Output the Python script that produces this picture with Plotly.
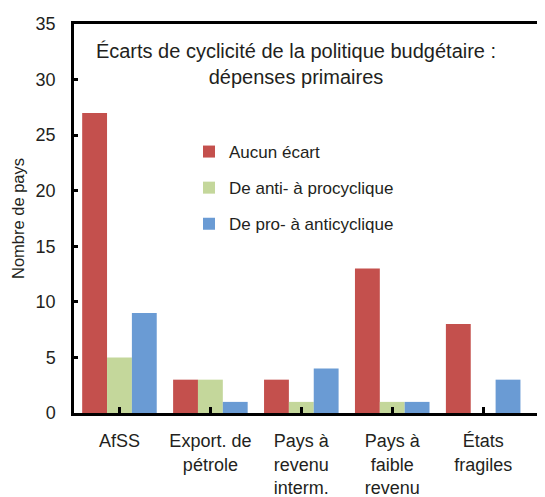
import plotly.graph_objects as go

categories = ["AfSS", "Export. de<br>pétrole", "Pays à<br>revenu<br>interm.",
              "Pays à<br>faible<br>revenu", "États<br>fragiles"]
aucun_ecart = [27, 3, 3, 13, 8]
anti_a_pro = [5, 3, 1, 1, 0]
pro_a_anti = [9, 1, 4, 1, 3]
y_ticks = [0, 5, 10, 15, 20, 25, 30, 35]

FONT = "Liberation Sans, Arial, sans-serif"
TXT = "#231F20"

W, H = 537, 489  # page body has an 8px margin
fig = go.Figure()
series = [
    ("Aucun écart", aucun_ecart, "#C4504D"),
    ("De anti- à procyclique", anti_a_pro, "#C4D79B"),
    ("De pro- à anticyclique", pro_a_anti, "#6A9BD4"),
]
for i, (name, vals, col) in enumerate(series):
    fig.add_trace(go.Bar(x=list(range(len(categories))), y=vals, name=name,
                         marker=dict(color=col, line=dict(width=0)),
                         legendgroup=f"g{i}"))

fig.update_layout(
    width=W, height=H,
    margin=dict(l=66, r=0, t=16, b=84),
    paper_bgcolor="white", plot_bgcolor="white",
    barmode="group", bargap=0.18, bargroupgap=0,
    font=dict(family=FONT, size=18, color=TXT),
    title=dict(text="Écarts de cyclicité de la politique budgétaire :<br>dépenses primaires",
               x=288/W, xanchor="center", y=1 - 50/H, yanchor="top",
               font=dict(family=FONT, size=20, color=TXT)),
    legend=dict(x=(189-74)/471, y=(413-134)/389, xanchor="left", yanchor="top",
                bgcolor="rgba(0,0,0,0)", tracegroupgap=11,
                font=dict(family=FONT, size=17, color=TXT)),
    xaxis=dict(range=[-0.5, 4.68], tickmode="array",
               tickvals=list(range(len(categories))), ticktext=categories,
               showline=True, linecolor="black", linewidth=2.5, mirror=True,
               ticks="inside", ticklen=6, tickwidth=2.5, tickcolor="black",
               tickson="boundaries", showgrid=False, zeroline=False,
               ticklabelstandoff=10, automargin=False,
               tickfont=dict(family=FONT, size=18, color=TXT)),
    yaxis=dict(range=[0, 35], tickvals=y_ticks,
               showline=True, linecolor="black", linewidth=2.5,
               ticks="inside", ticklen=4, tickwidth=2.5, tickcolor="black",
               showgrid=False, zeroline=False, ticklabelstandoff=12,
               automargin=False,
               title=dict(text="Nombre de pays", standoff=7,
                          font=dict(family=FONT, size=16.5, color=TXT)),
               tickfont=dict(family=FONT, size=18, color=TXT)),
)

fig.write_html("out.html")
